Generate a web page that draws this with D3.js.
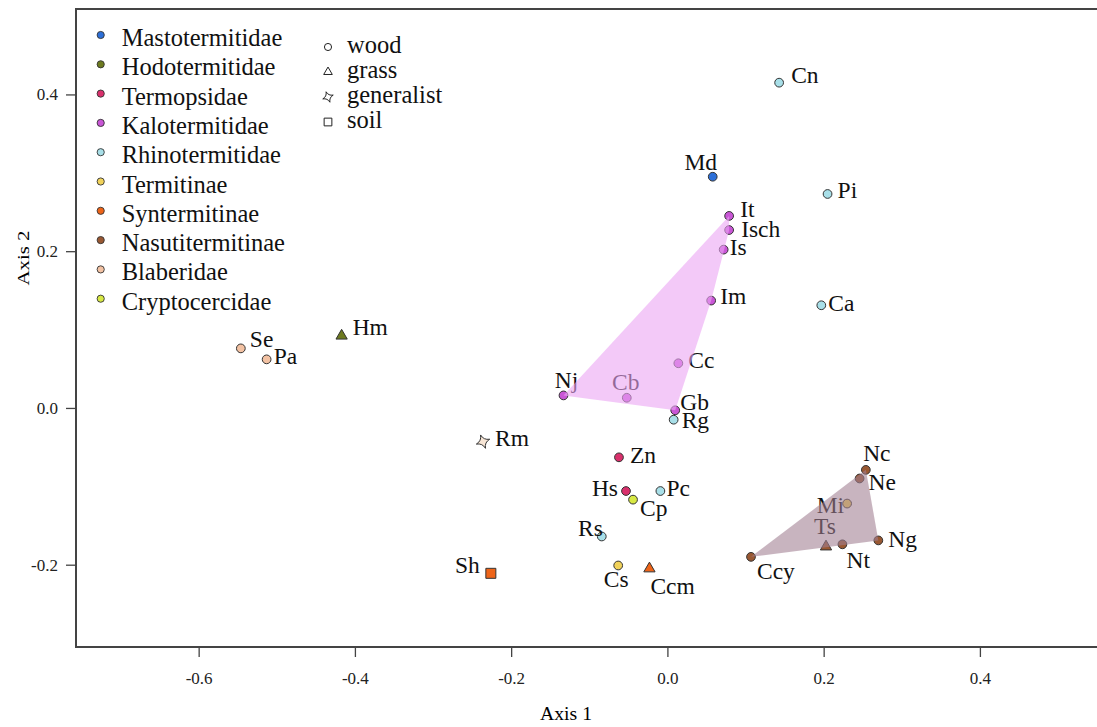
<!DOCTYPE html>
<html>
<head>
<meta charset="utf-8">
<script src="https://cdn.jsdelivr.net/npm/d3@7"></script>
<style>
  body { margin: 0; background: #fff; }
  svg { display: block; font-family: "Liberation Serif", "DejaVu Serif", serif; }
</style>
</head>
<body>
<svg width="1097" height="727"></svg>
<script>
// ordination scores
var names = ["Cn","Md","Pi","It","Isch","Is","Im","Ca","Cc","Nj","Cb","Gb","Rg","Rm","Zn","Hs","Pc","Cp","Rs","Cs","Ccm","Sh","Se","Pa","Hm","Nc","Ne","Mi","Ts","Ng","Nt","Ccy"];
var axis1 = [0.143,0.058,0.205,0.079,0.079,0.072,0.056,0.197,0.014,-0.133,-0.052,0.010,0.008,-0.236,-0.062,-0.053,-0.009,-0.044,-0.084,-0.063,-0.023,-0.226,-0.546,-0.513,-0.417,0.254,0.246,0.230,0.203,0.270,0.224,0.107];
var axis2 = [0.415,0.295,0.273,0.245,0.227,0.202,0.137,0.131,0.057,0.016,0.013,-0.003,-0.015,-0.043,-0.063,-0.106,-0.106,-0.117,-0.164,-0.201,-0.205,-0.211,0.076,0.062,0.092,-0.079,-0.090,-0.122,-0.177,-0.169,-0.174,-0.190];
var family = ["Rhinotermitidae","Mastotermitidae","Rhinotermitidae","Kalotermitidae","Kalotermitidae","Kalotermitidae","Kalotermitidae","Rhinotermitidae","Kalotermitidae","Kalotermitidae","Kalotermitidae","Kalotermitidae","Rhinotermitidae","Blaberidae","Termopsidae","Termopsidae","Rhinotermitidae","Cryptocercidae","Rhinotermitidae","Termitinae","Syntermitinae","Syntermitinae","Blaberidae","Blaberidae","Hodotermitidae","Nasutitermitinae","Nasutitermitinae","Termitinae","Nasutitermitinae","Nasutitermitinae","Nasutitermitinae","Nasutitermitinae"];
var diet = ["wood","wood","wood","wood","wood","wood","wood","wood","wood","wood","wood","wood","wood","generalist","wood","wood","wood","wood","wood","wood","grass","soil","wood","wood","grass","wood","wood","wood","grass","wood","wood","wood"];

var families = ["Mastotermitidae","Hodotermitidae","Termopsidae","Kalotermitidae","Rhinotermitidae","Termitinae","Syntermitinae","Nasutitermitinae","Blaberidae","Cryptocercidae"];
var famColors = ["#2c6fd8","#6d7a1f","#d9306c","#c956d6","#a8dfe8","#f1d25a","#ee6418","#995832","#f3c2a3","#d7e843"];
var diets = ["wood","grass","generalist","soil"];
var hullFamilies = ["Kalotermitidae","Nasutitermitinae"];
var hullColors = ["rgba(235,165,243,0.6)","rgba(160,125,145,0.58)"];

var xTicks = [-0.6,-0.4,-0.2,0.0,0.2,0.4];
var yTicks = [-0.2,0.0,0.2,0.4];

var svg = d3.select("svg");

var x = d3.scaleLinear().domain([-0.757, 0.555]).range([76, 1101]);
var y = d3.scaleLinear().domain([-0.305, 0.509]).range([647, 9]);
var col = d3.scaleOrdinal().domain(families).range(famColors);

// 4 pointed star for generalist
var star4 = {
  draw: function(ctx, size) {
    var r = Math.sqrt(size) * 0.75, ri = r * 0.22, rot = -0.35;
    for (var i = 0; i < 4; i++) {
      var a = rot + i * Math.PI / 2, b = a + Math.PI / 4, c = a + Math.PI / 2;
      if (i == 0) ctx.moveTo(r * Math.cos(a), r * Math.sin(a));
      ctx.quadraticCurveTo(ri * Math.cos(b), ri * Math.sin(b), r * Math.cos(c), r * Math.sin(c));
    }
    ctx.closePath();
  }
};
var shapes = { wood: d3.symbolCircle, grass: d3.symbolTriangle, generalist: star4, soil: d3.symbolSquare };
var sizes = { wood: 60, grass: 55, generalist: 90, soil: 100 };
var legSizes = { wood: 40, grass: 32, generalist: 55, soil: 60 };

// axes
var xAxis = svg.append("g").attr("transform", "translate(0,647)")
  .call(d3.axisBottom(x).tickValues(xTicks).tickSize(10).tickFormat(function(d){ return d.toFixed(1); }));
xAxis.select(".domain").remove();
xAxis.selectAll("line").attr("stroke", "#444").attr("stroke-width", 1.3);
xAxis.selectAll("text").attr("y", 31).attr("dy", "0.35em").attr("font-size", 17)
  .attr("font-family", "Liberation Serif").attr("fill", "#222");

var yAxis = svg.append("g").attr("transform", "translate(76,0)")
  .call(d3.axisLeft(y).tickValues(yTicks).tickSize(10).tickPadding(8).tickFormat(function(d){ return d.toFixed(1); }));
yAxis.select(".domain").remove();
yAxis.selectAll("line").attr("stroke", "#444").attr("stroke-width", 1.3);
yAxis.selectAll("text").attr("font-size", 17).attr("font-family", "Liberation Serif").attr("fill", "#222");

svg.append("text").attr("x", 566).attr("y", 713).attr("dy", "0.35em")
  .attr("text-anchor", "middle").attr("font-size", 19).attr("textLength", 52)
  .attr("lengthAdjust", "spacingAndGlyphs").text("Axis 1");
svg.append("text").attr("transform", "translate(23,258) rotate(-90)").attr("dy", "0.35em")
  .attr("text-anchor", "middle").attr("font-size", 17).attr("textLength", 55)
  .attr("lengthAdjust", "spacingAndGlyphs").text("Axis 2");

// frame
svg.append("rect").attr("x", 76).attr("y", 9).attr("width", 1030).attr("height", 638)
  .attr("fill", "none").attr("stroke", "#444").attr("stroke-width", 2);

var pts = names.map(function(n, i) {
  return { name: n, px: x(axis1[i]), py: y(axis2[i]), fam: family[i], diet: diet[i] };
});

// points
svg.append("g").selectAll("path").data(pts).enter().append("path")
  .attr("transform", function(d){ return "translate(" + d.px + "," + d.py + ")"; })
  .attr("d", function(d){ return d3.symbol().type(shapes[d.diet]).size(sizes[d.diet])(); })
  .attr("fill", function(d){ return d.diet == "generalist" ? "#f8e6d6" : col(d.fam); })
  .attr("stroke", "#333").attr("stroke-width", 1);

// label placement (anchor, dx, dy)
var labelPos = {
  Cn:["start",12,-7], Md:["middle",-12,-14], Pi:["start",10,-4], It:["start",11,-7],
  Isch:["start",12,-1], Is:["start",6,-2], Im:["start",9,-4], Ca:["start",7,-2],
  Cc:["start",10,-3], Nj:["middle",3,-15], Cb:["middle",-1,-16], Gb:["start",5,-8],
  Rg:["start",8,1], Rm:["start",12,-3], Zn:["start",11,-2], Hs:["end",-8,-3],
  Pc:["start",6,-3], Cp:["start",7,9], Rs:["end",1,-8], Cs:["middle",-2,14],
  Ccm:["start",1,18], Sh:["end",-11,-8], Se:["start",9,-9], Pa:["start",7,-3],
  Hm:["start",11,-9], Nc:["middle",11,-17], Ne:["start",9,4], Mi:["end",-3,2],
  Ts:["middle",-1,-20], Ng:["start",10,-1], Nt:["start",4,16], Ccy:["start",6,14]
};

svg.append("g").selectAll("text").data(pts).enter().append("text")
  .attr("x", function(d){ return d.px + labelPos[d.name][1]; })
  .attr("y", function(d){ return d.py + labelPos[d.name][2]; })
  .attr("dy", "0.33em")
  .attr("text-anchor", function(d){ return labelPos[d.name][0]; })
  .attr("font-size", 23.5).attr("fill", "#111")
  .text(function(d){ return d.name; });

// convex hulls drawn over the points
hullFamilies.forEach(function(f, k) {
  var hull = d3.polygonHull(pts.filter(function(d){ return d.fam == f; }).map(function(d){ return [d.px, d.py]; }));
  svg.append("path").attr("d", "M" + hull.join("L") + "Z").attr("fill", hullColors[k]).attr("stroke", "none");
});

// legends
var leg = svg.append("g");
families.forEach(function(f, i) {
  var yy = 38 + i * 29.3;
  leg.append("circle").attr("cx", 100.7).attr("cy", yy - 3).attr("r", 3.6)
    .attr("fill", famColors[i]).attr("stroke", "#333").attr("stroke-width", 0.9);
  leg.append("text").attr("x", 121.7).attr("y", yy).attr("dy", "0.33em")
    .attr("font-size", 24.5).attr("fill", "#111").text(f);
});
diets.forEach(function(dt, i) {
  var yy = 45 + i * 25;
  leg.append("path").attr("transform", "translate(328," + (yy + 2) + ")")
    .attr("d", d3.symbol().type(shapes[dt]).size(legSizes[dt])())
    .attr("fill", "#fff").attr("stroke", "#222").attr("stroke-width", 1);
  leg.append("text").attr("x", 347).attr("y", yy).attr("dy", "0.33em")
    .attr("font-size", 24.5).attr("fill", "#111").text(dt);
});
</script>
</body>
</html>
